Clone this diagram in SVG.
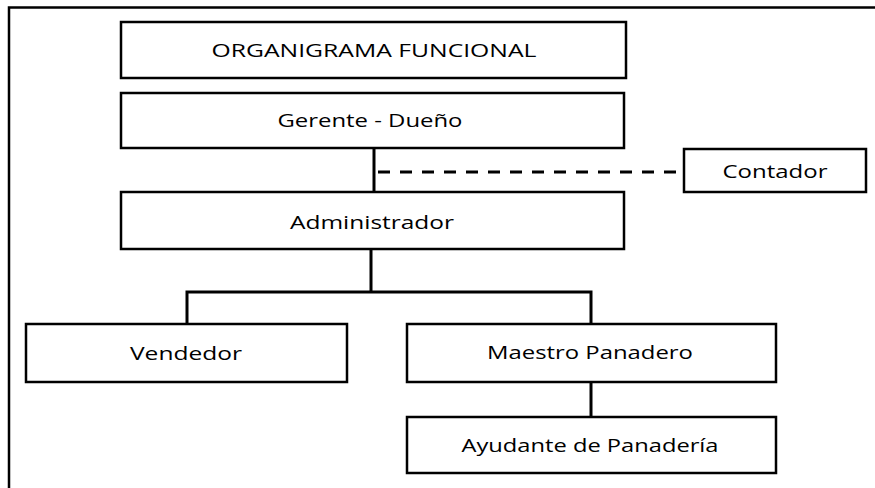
<svg xmlns="http://www.w3.org/2000/svg" width="875" height="488" viewBox="0 0 875 488">
<style>
.box{fill:#fff;stroke:#000;stroke-width:2.5}
.lbl{font-family:"Open Sans","Noto Sans",sans-serif;font-size:18px;fill:#000;text-anchor:middle}
.con{fill:none;stroke:#000;stroke-width:3}
.dash{fill:none;stroke:#000;stroke-width:3;stroke-dasharray:12,10}
</style>
<rect width="875" height="488" fill="#fff"/>
<path d="M875,7.5 H9 V488" fill="none" stroke="#000" stroke-width="2.5"/>
<g id="connectors">
<path class="con" d="M374,148 V192"/>
<path class="dash" d="M378,172 H684"/>
<path class="con" d="M371,249 V292 M185.5,292 H592.5 M187,292 V324 M591,292 V324"/>
<path class="con" d="M591,382 V417"/>
</g>
<g id="titulo">
<rect class="box" x="121" y="22" width="505" height="56"/>
<text class="lbl" x="374" y="57" textLength="325" lengthAdjust="spacingAndGlyphs">ORGANIGRAMA FUNCIONAL</text>
</g>
<g id="gerente">
<rect class="box" x="121" y="93" width="503" height="55"/>
<text class="lbl" x="370" y="127" textLength="185" lengthAdjust="spacingAndGlyphs">Gerente - Dueño</text>
</g>
<g id="contador">
<rect class="box" x="684" y="149" width="182" height="43"/>
<text class="lbl" x="775" y="178" textLength="105" lengthAdjust="spacingAndGlyphs">Contador</text>
</g>
<g id="administrador">
<rect class="box" x="121" y="192" width="503" height="57"/>
<text class="lbl" x="372" y="229" textLength="164" lengthAdjust="spacingAndGlyphs">Administrador</text>
</g>
<g id="vendedor">
<rect class="box" x="26" y="324" width="321" height="58"/>
<text class="lbl" x="186" y="360" textLength="112" lengthAdjust="spacingAndGlyphs">Vendedor</text>
</g>
<g id="maestro">
<rect class="box" x="407" y="324" width="369" height="58"/>
<text class="lbl" x="590" y="359" textLength="206" lengthAdjust="spacingAndGlyphs">Maestro Panadero</text>
</g>
<g id="ayudante">
<rect class="box" x="407" y="417" width="369" height="56"/>
<text class="lbl" x="590" y="452" textLength="257" lengthAdjust="spacingAndGlyphs">Ayudante de Panadería</text>
</g>
</svg>
